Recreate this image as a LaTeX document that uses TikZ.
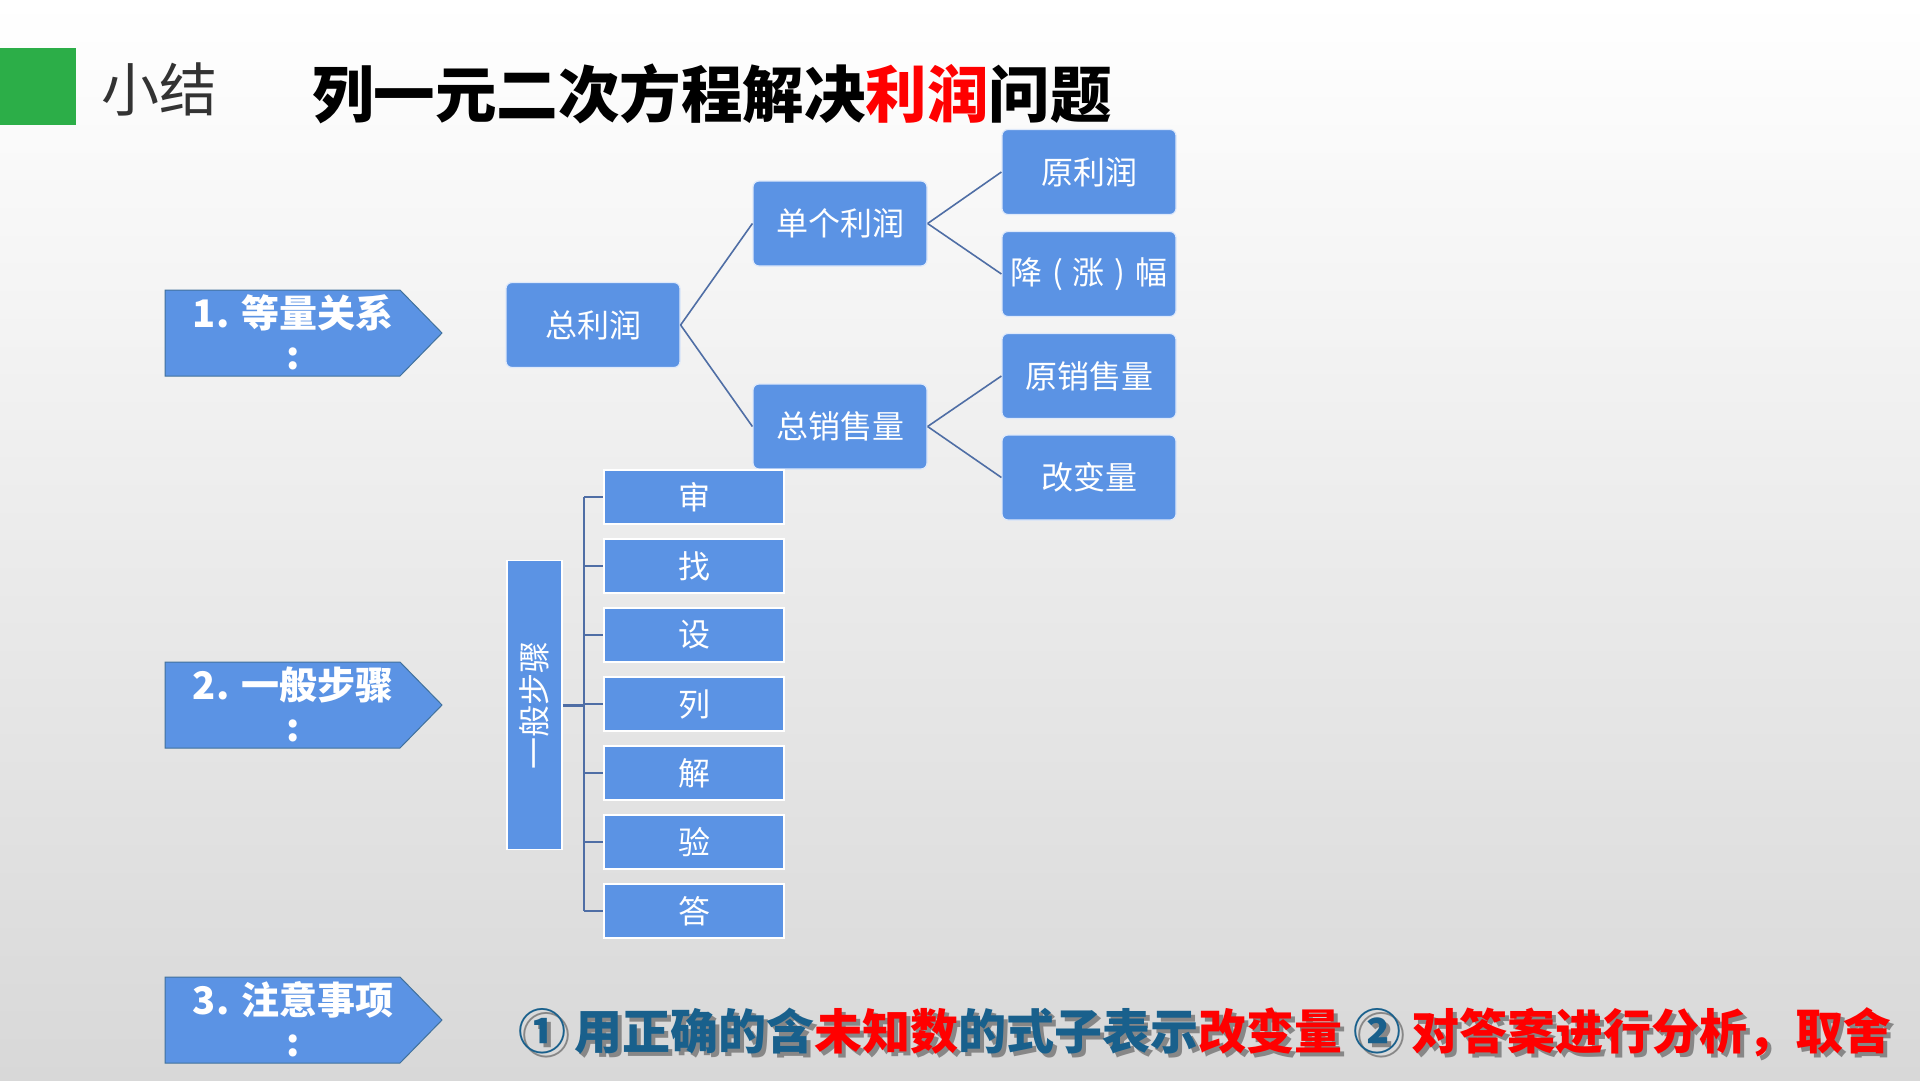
\documentclass[tikz,border=0pt]{standalone}
\usepackage{fontspec}
\setmainfont{Noto Sans CJK SC}
\definecolor{boxblue}{RGB}{91,147,228}
\definecolor{linkblue}{RGB}{79,110,165}
\definecolor{arrowedge}{RGB}{65,113,156}
\definecolor{tealtext}{RGB}{25,96,140}
\definecolor{bgbottom}{RGB}{216,216,216}
\definecolor{greenbar}{RGB}{44,174,72}
\definecolor{titlered}{RGB}{255,0,0}
\definecolor{shadowgray}{RGB}{135,135,135}
\definecolor{darkgray}{RGB}{51,51,51}
\newcommand\bottomline[2]{\textcolor{#1}{①\hspace{0.18em}用正确的含}\textcolor{#2}{未知数}\textcolor{#1}{的式子表示}\textcolor{#2}{改变量}\hspace{0.22em}\textcolor{#1}{②}\hspace{0.22em}\textcolor{#2}{对答案进行分析，取舍}}
\begin{document}
\begin{tikzpicture}[x=1pt,y=-1pt,
  treebox/.style={rectangle, rounded corners=6pt, fill=boxblue, draw=white!80!boxblue, line width=1.2pt,
    minimum width=174pt, minimum height=85pt, inner sep=0pt, text=white, font=\fontsize{32}{38}\selectfont},
  stepbox/.style={rectangle, fill=boxblue, draw=white, line width=1.5pt,
    minimum width=180pt, minimum height=54pt, inner sep=0pt, text=white, font=\fontsize{32}{38}\selectfont},
  genbox/.style={rectangle, fill=boxblue, draw=white, line width=1.5pt,
    minimum width=55pt, minimum height=289pt, inner sep=0pt, text=white, font=\fontsize{32}{38}\selectfont},
  arrowshape/.style={fill=boxblue, draw=arrowedge, line width=1pt},
  arrowlabel/.style={text=white, font=\bfseries\fontsize{38}{44}\selectfont, inner sep=0pt},
  link/.style={draw=linkblue, line width=1.6pt},
  bracket/.style={draw=linkblue, line width=2pt},
  notetext/.style={anchor=west, font=\bfseries\fontsize{48}{54}\selectfont, inner sep=0pt}
]
\useasboundingbox (0,0) rectangle (1920,1080);
\shade[top color=white, bottom color=bgbottom] (0,0) rectangle (1920,1080);

% header
\fill[greenbar] (0,48) rectangle (76,125);
\node[text=darkgray, font=\fontsize{58}{64}\selectfont, inner sep=0pt] (xiaojie) at (159,89) {小结};
\node[anchor=west, font=\bfseries\fontsize{61.5}{66}\selectfont, inner sep=0pt] (title) at (312,94)
  {列一元二次方程解决\textcolor{titlered}{利润}问题};

% left arrows
\draw[arrowshape] (165,290) -- (400,290) -- (442,333) -- (400,376) -- (165,376) -- cycle;
\node[arrowlabel] (a1) at (293,313) {1. 等量关系};
\node[arrowlabel] (a1c) at (293,359) {:};
\draw[arrowshape] (165,662) -- (400,662) -- (442,705) -- (400,748) -- (165,748) -- cycle;
\node[arrowlabel] (a2) at (293,685) {2. 一般步骤};
\node[arrowlabel] (a2c) at (293,731) {:};
\draw[arrowshape] (165,977) -- (400,977) -- (442,1020) -- (400,1063) -- (165,1063) -- cycle;
\node[arrowlabel] (a3) at (293,1000) {3. 注意事项};
\node[arrowlabel] (a3c) at (293,1046) {:};

% tree
\node[treebox] (tot) at (593,325) {总利润};
\node[treebox] (dan) at (840,223.5) {单个利润};
\node[treebox] (zong) at (840,426.5) {总销售量};
\node[treebox] (yuan) at (1089,172) {原利润};
\node[treebox] (jiang) at (1089,274) {降\makebox[0.95em]{(}涨\makebox[0.95em]{)}幅};
\node[treebox] (yxs) at (1089,376) {原销售量};
\node[treebox] (gbl) at (1089,477.5) {改变量};
\draw[link] (tot.east) -- (dan.west);
\draw[link] (tot.east) -- (zong.west);
\draw[link] (dan.east) -- (yuan.west);
\draw[link] (dan.east) -- (jiang.west);
\draw[link] (zong.east) -- (yxs.west);
\draw[link] (zong.east) -- (gbl.west);

% steps
\node[genbox] (gen) at (534.5,705) {};
\node[text=white, font=\fontsize{32}{38}\selectfont, rotate=90, inner sep=0pt] (gentext) at (gen.center) {一般步骤};
\foreach \t/\n [count=\i from 0] in {审/s1,找/s2,设/s3,列/s4,解/s5,验/s6,答/s7}{
  \node[stepbox] (\n) at (694,497+69*\i) {\t};
}
\coordinate (btop) at (584,497);
\coordinate (bbot) at (584,911);
\coordinate (bmid) at (584,705);
\draw[bracket, line width=3pt] (gen.east) -- (bmid);
\draw[bracket] (btop) -- (bbot);
\foreach \n in {s1,s2,s3,s4,s5,s6,s7}{
  \draw[bracket] (btop |- \n.west) -- (\n.west);
}

% bottom note (with drop shadow)
\node[notetext] (noteshadow) at (522,1036) {\bottomline{shadowgray}{shadowgray}};
\node[notetext] (note) at (518,1032) {\bottomline{tealtext}{titlered}};
\end{tikzpicture}
\end{document}
